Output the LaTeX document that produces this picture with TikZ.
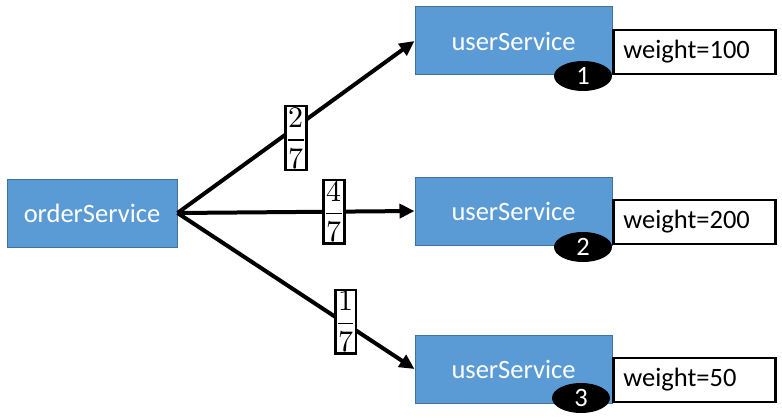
\documentclass[tikz,border=0pt]{standalone}
\usepackage{fontspec}
\usepackage{unicode-math}
\setmathfont{Latin Modern Math}
\setmainfont{Carlito}
\usetikzlibrary{shapes.geometric,arrows.meta}
\definecolor{svcfill}{HTML}{5B9BD5}
\definecolor{svcdraw}{HTML}{41719C}
\begin{document}
\begin{tikzpicture}[x=1pt,y=-1pt,
  svc/.style={draw=svcdraw,line width=1pt,fill=svcfill,text=white,font=\fontsize{26.5}{30}\selectfont,inner sep=0pt},
  wbox/.style={draw=black,line width=2.8pt,fill=white,anchor=west,minimum height=44pt,text width=142pt,inner xsep=10pt,inner ysep=0pt,align=left,font=\fontsize{26.5}{30}\selectfont},
  num/.style={ellipse,fill=black,text=white,minimum width=58pt,minimum height=30pt,inner sep=0pt,font=\fontsize{26.5}{30}\selectfont},
  arr/.style={line width=4pt,-{Triangle[length=15pt,width=14pt]}},
  fracbox/.style={draw=black,line width=2.4pt,fill=white,inner xsep=1.5pt,inner ysep=1pt,font=\fontsize{30}{34}\selectfont}]
\useasboundingbox (0,0) rectangle (782,420);
\node[svc,minimum width=170pt,minimum height=68pt] (order) at (92,213) {orderService};
\node[svc,minimum width=197pt,minimum height=68pt] (user1) at (513.5,41) {userService};
\node[svc,minimum width=197pt,minimum height=68pt] (user2) at (513.5,211) {userService};
\node[svc,minimum width=197pt,minimum height=68pt] (user3) at (513.5,369) {userService};
\node[wbox] (w1) at (612,52) {weight=100};
\node[wbox] (w2) at (612,222) {weight=200};
\node[wbox] (w3) at (612,380) {weight=50};
\node[num] (n1) at (583,76) {1};
\node[num] (n2) at (583,247) {2};
\node[num] (n3) at (581,398) {3};
\draw[arr] (order.east) -- (user1.west) node[fracbox,pos=0.5,yshift=-11pt] (f1) {$\displaystyle\frac{2}{7}$};
\draw[arr] (order.east) -- (user2.west) node[fracbox,pos=0.66] (f2) {$\displaystyle\frac{4}{7}$};
\draw[arr] (order.east) -- (user3.west) node[fracbox,pos=0.71,yshift=2pt] (f3) {$\displaystyle\frac{1}{7}$};
\end{tikzpicture}
\end{document}
